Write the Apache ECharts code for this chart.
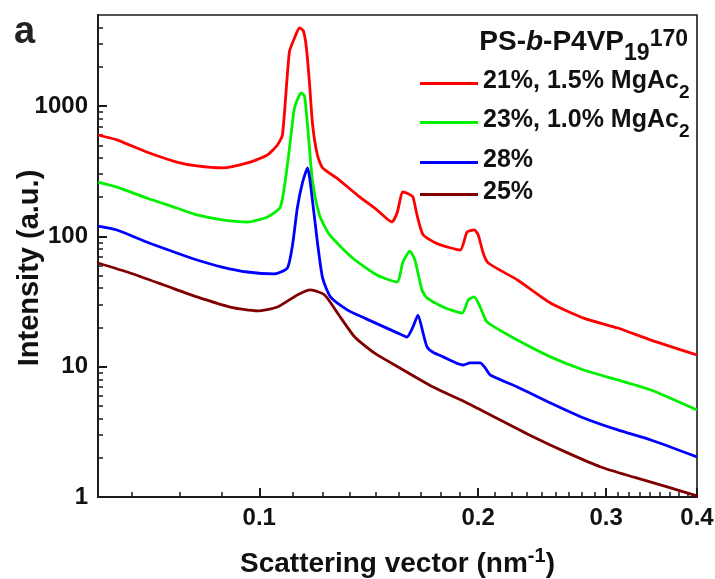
<!DOCTYPE html>
<html><head><meta charset="utf-8">
<script src="https://cdn.jsdelivr.net/npm/echarts@6/dist/echarts.min.js"></script>
<style>html,body{margin:0;padding:0;background:#fff}#c{width:715px;height:579px}</style>
</head><body><div id="c"></div>
<script>
// ---- data (q in nm^-1, intensity in a.u.) ----
const seriesNames = ['21%, 1.5% MgAc2', '23%, 1.0% MgAc2', '28%', '25%'];
const seriesColors = ['#FF0000', '#00F000', '#0000FF', '#800000'];

const red21 = [[0.0600,600],[0.0637,550],[0.0700,444],[0.0770,372],[0.0821,347],[0.0889,335],[0.0963,366],[0.1026,421],[0.1059,503],[0.1076,600],[0.1100,2602],[0.1118,3333],[0.1136,3973],[0.1150,3770],[0.1161,2792],[0.1172,1531],[0.1184,716],[0.1202,421],[0.1222,335],[0.1277,281],[0.1374,201],[0.1451,160],[0.1522,129],[0.1547,151],[0.1576,219],[0.1610,210],[0.1627,201],[0.1648,146],[0.1680,103],[0.1756,88],[0.1889,78.6],[0.1931,108],[0.1975,112],[0.2000,103],[0.2032,74.6],[0.2065,62.5],[0.2265,46.3],[0.2515,30.8],[0.2794,23.6],[0.3112,19.8],[0.3457,16.0],[0.4000,12.3]];

const green23 = [[0.0600,261],[0.0637,239],[0.0700,197],[0.0770,165],[0.0821,146],[0.0889,134],[0.0963,129],[0.1026,141],[0.1069,168],[0.1093,353],[0.1111,755],[0.1118,967],[0.1136,1217],[0.1143,1260],[0.1154,1196],[0.1165,716],[0.1172,480],[0.1184,261],[0.1210,146],[0.1249,103],[0.1344,68.3],[0.1451,50.6],[0.1547,44.7],[0.1576,63.6],[0.1611,77],[0.1637,65.9],[0.1674,38.8],[0.1701,33.7],[0.1790,28.7],[0.1901,25.8],[0.1938,32.5],[0.1975,34.3],[0.2013,28.7],[0.2058,22.0],[0.2265,16.0],[0.2515,11.9],[0.2794,9.43],[0.3112,7.91],[0.3457,6.62],[0.4000,4.65]];

const blue28 = [[0.0600,120],[0.0637,112],[0.0700,90.6],[0.0770,74.6],[0.0821,65.9],[0.0889,58.2],[0.0963,53.3],[0.1049,51.5],[0.1093,57.2],[0.1111,85.9],[0.1128,165],[0.1147,261],[0.1165,335],[0.1184,184],[0.1202,90.6],[0.1222,48.0],[0.1253,34.3],[0.1323,27.2],[0.1396,23.6],[0.1551,18.1],[0.1596,16.9],[0.1627,20.2],[0.1653,24.9],[0.1680,18.1],[0.1701,14.2],[0.1734,12.9],[0.1790,11.9],[0.1907,10.3],[0.1950,10.7],[0.2013,10.7],[0.2045,9.8],[0.2078,8.63],[0.2265,6.98],[0.2515,5.27],[0.2794,4.04],[0.3112,3.27],[0.3457,2.74],[0.4000,2.03]];

const dark25 = [[0.0600,62.5],[0.0664,52.4],[0.0739,42.4],[0.0821,34.3],[0.0912,28.7],[0.0994,26.8],[0.1059,28.7],[0.1128,35.5],[0.1176,38.8],[0.1230,35.5],[0.1281,25.8],[0.1353,16.9],[0.1441,12.7],[0.1561,9.77],[0.1734,6.98],[0.1931,5.27],[0.2145,3.90],[0.2383,2.89],[0.2655,2.18],[0.2949,1.70],[0.3275,1.42],[0.3650,1.19],[0.4000,1.02]];

const seriesData = [red21, green23, blue28, dark25];

const xMajorTicks = [0.1, 0.2, 0.3, 0.4];
const xTickLabels = ['0.1', '0.2', '0.3', '0.4'];
const yMajorTicks = [1, 10, 100, 1000];
const yTickLabels = ['1', '10', '100', '1000'];

// minor tick positions (axis decoration): 8 minor ticks per 0.1 interval on x, 2..9 per decade on y
const xMinorTicks = [];
for (let a = 0; a < 4; a++) {
  for (let k = 1; k < 9; k++) {
    const v = +(a * 0.1 + k * 0.1 / 9).toFixed(5);
    if (v > 0.06 && v < 0.4) xMinorTicks.push(v);
  }
}
const yMinorTicks = [];
[1, 10, 100, 1000].forEach(d => { for (let k = 2; k <= 9; k++) { if (k * d < 5000) yMinorTicks.push(k * d); } });

const FONT = 'Liberation Sans, Arial, sans-serif';
const AX = '#1a1a1a';
const TXT = '#111';

function labelFor(vals, labels) {
  return function (v) {
    let best = 0, bd = Infinity;
    vals.forEach((t, i) => { const d = Math.abs(Math.log(t) - Math.log(v)); if (d < bd) { bd = d; best = i; } });
    return labels[best];
  };
}

const chart = echarts.init(document.getElementById('c'), null, { renderer: 'canvas' });

const legendTops = [69, 108, 148, 180];
const legends = seriesNames.map((n, i) => ({
  data: [n],
  left: 420, top: legendTops[i], padding: 0,
  orient: 'vertical', selectedMode: false,
  icon: 'rect', itemWidth: 58, itemHeight: 3,
  formatter: function (name) {
    if (/MgAc2$/.test(name)) return '{m|' + name.slice(0, -1) + '}{s|2}';
    return '{m|' + name + '}';
  },
  textStyle: {
    color: TXT, fontFamily: FONT, fontWeight: 'bold', fontSize: 25,
    rich: {
      m: { fontFamily: FONT, fontWeight: 'bold', fontSize: 25, lineHeight: 29, color: TXT, verticalAlign: 'top' },
      s: { fontFamily: FONT, fontWeight: 'bold', fontSize: 19, lineHeight: 19, color: TXT, verticalAlign: 'top', padding: [14, 0, 0, 0] }
    }
  }
}));

const option = {
  animation: false,
  backgroundColor: '#fff',
  title: [
    { text: 'a', left: 14, top: 14, padding: 0,
      textStyle: { fontFamily: FONT, fontWeight: 'bold', fontSize: 38, color: '#222' } },
    { text: '{m|PS-}{i|b}{m|-P4VP}{sub|19}{sup|170}', right: 27, top: 28, padding: 0,
      textStyle: {
        fontFamily: FONT, fontWeight: 'bold', fontSize: 28, color: TXT,
        rich: {
          m: { fontFamily: FONT, fontWeight: 'bold', fontSize: 28, lineHeight: 32, color: TXT, verticalAlign: 'top' },
          i: { fontFamily: FONT, fontWeight: 'bold', fontStyle: 'italic', fontSize: 28, lineHeight: 32, color: TXT, verticalAlign: 'top' },
          sub: { fontFamily: FONT, fontWeight: 'bold', fontSize: 23, lineHeight: 23, color: TXT, verticalAlign: 'top', padding: [14, 0, 0, 0] },
          sup: { fontFamily: FONT, fontWeight: 'bold', fontSize: 23, lineHeight: 17, color: TXT, verticalAlign: 'top' }
        }
      } }
  ],
  legend: legends,
  grid: { left: 98, right: 18, top: 15, bottom: 82, show: true, borderColor: AX, borderWidth: 1.6, containLabel: false, outerBoundsMode: 'none' },
  xAxis: [
    {
      type: 'log', logBase: 10, min: 0.06, max: 0.4, position: 'bottom',
      name: '{m|Scattering vector (nm}{sup|-1}{m|)}',
      nameLocation: 'middle', nameGap: 45, nameMoveOverlap: false,
      nameTextStyle: {
        fontFamily: FONT, fontWeight: 'bold', fontSize: 28, color: TXT,
        rich: {
          m: { fontFamily: FONT, fontWeight: 'bold', fontSize: 28, lineHeight: 30, color: TXT, verticalAlign: 'top', padding: [8, 0, 0, 0] },
          sup: { fontFamily: FONT, fontWeight: 'bold', fontSize: 20, lineHeight: 19, color: TXT, verticalAlign: 'top', padding: [4, 0, 0, 0] }
        }
      },
      axisLine: { show: true, lineStyle: { color: AX, width: 2 } },
      axisTick: { show: true, inside: true, length: 9, customValues: xMajorTicks, lineStyle: { color: AX, width: 2 } },
      axisLabel: { show: true, customValues: xMajorTicks, formatter: labelFor(xMajorTicks, xTickLabels), margin: 9,
        fontFamily: FONT, fontWeight: 'bold', fontSize: 24, color: TXT },
      splitLine: { show: false }, minorTick: { show: false }
    },
    {
      type: 'log', logBase: 10, min: 0.06, max: 0.4, position: 'bottom',
      axisLine: { show: false },
      axisTick: { show: true, inside: true, length: 5, customValues: xMinorTicks, lineStyle: { color: AX, width: 1.5 } },
      axisLabel: { show: false },
      splitLine: { show: false }
    }
  ],
  yAxis: [
    {
      type: 'log', logBase: 10, min: 1, max: 5000, position: 'left',
      name: 'Intensity (a.u.)', nameLocation: 'middle', nameGap: 54, nameRotate: 90, nameMoveOverlap: false,
      nameTextStyle: { fontFamily: FONT, fontWeight: 'bold', fontSize: 29, color: TXT, padding: [0, 24, 0, 0] },
      axisLine: { show: true, lineStyle: { color: AX, width: 2 } },
      axisTick: { show: true, inside: true, length: 9, customValues: yMajorTicks, lineStyle: { color: AX, width: 2 } },
      axisLabel: { show: true, customValues: yMajorTicks, formatter: labelFor(yMajorTicks, yTickLabels), margin: 10,
        fontFamily: FONT, fontWeight: 'bold', fontSize: 24, color: TXT },
      splitLine: { show: false }, minorTick: { show: false }
    },
    {
      type: 'log', logBase: 10, min: 1, max: 5000, position: 'left',
      axisLine: { show: false },
      axisTick: { show: true, inside: true, length: 5, customValues: yMinorTicks, lineStyle: { color: AX, width: 1.5 } },
      axisLabel: { show: false },
      splitLine: { show: false }
    }
  ],
  series: seriesNames.map((n, i) => ({
    name: n, type: 'line', xAxisIndex: 0, yAxisIndex: 0,
    data: seriesData[i], showSymbol: false, symbol: 'none', smooth: 0.2,
    lineStyle: { color: seriesColors[i], width: 2.8 },
    itemStyle: { color: seriesColors[i] },
    emphasis: { disabled: true }
  }))
};
chart.setOption(option);
</script></body></html>
